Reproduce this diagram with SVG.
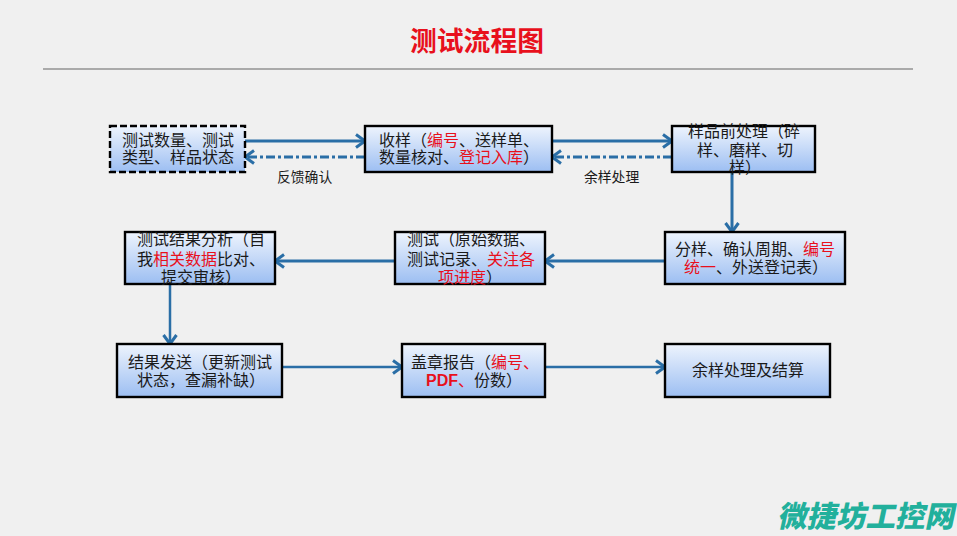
<svg xmlns="http://www.w3.org/2000/svg" width="957" height="536" viewBox="0 0 957 536">
<style>
text{font-family:"Noto Sans CJK SC","Noto Sans",sans-serif;font-size:16px;fill:#1a1a1a}
.r{fill:#e8101c}
.b{fill:url(#g);stroke:#000;stroke-width:2.4}
.c{fill:none;stroke:#2a6ea6;stroke-width:3}
.d{fill:none;stroke:#2a6ea6;stroke-width:3;stroke-dasharray:9 3 3 3}
.n{font-size:13.8px}
</style>
<defs>
<linearGradient id="g" x1="0" y1="0" x2="0" y2="1"><stop offset="0" stop-color="#eef4fd"/><stop offset="1" stop-color="#9cbef2"/></linearGradient>
<marker id="a" markerUnits="userSpaceOnUse" markerWidth="14" markerHeight="16" refX="11" refY="8" orient="auto"><path d="M2 1.5L11 8L2 14.5" fill="none" stroke="#2a6ea6" stroke-width="3"/></marker>
</defs>
<rect width="957" height="536" fill="#f0f0f0"/>
<text x="477" y="51" text-anchor="middle" style="font-size:26.8px;font-weight:700;fill:#e8101c">测试流程图</text>
<rect x="43" y="68" width="870" height="2" fill="#aaaaaa"/>
<g id="connectors">
<path class="c" marker-end="url(#a)" d="M245 141H365"/>
<path class="d" marker-end="url(#a)" d="M365 157H245"/>
<path class="c" marker-end="url(#a)" d="M552 141H672"/>
<path class="d" marker-end="url(#a)" d="M672 157H552"/>
<path class="c" marker-end="url(#a)" d="M732 172V232"/>
<path class="c" marker-end="url(#a)" d="M665 261H545"/>
<path class="c" marker-end="url(#a)" d="M395 261H275"/>
<path class="c" style="stroke-width:2.5" marker-end="url(#a)" d="M170 284V344"/>
<path class="c" style="stroke-width:2.5" marker-end="url(#a)" d="M282 367H402"/>
<path class="c" style="stroke-width:2.5" marker-end="url(#a)" d="M545 367H665"/>
</g>
<g id="n1"><rect class="b" style="stroke-dasharray:7 3" x="110" y="126" width="135" height="46"/><text x="122" y="146">测试数量、测试</text><text x="122" y="163">类型、样品状态</text></g>
<g id="n2"><rect class="b" x="365" y="126" width="187" height="46"/><text x="379" y="146">收样（<tspan class="r">编号</tspan>、送样单、</text><text x="379" y="163">数量核对、<tspan class="r">登记入库</tspan>）</text></g>
<g id="n3"><rect class="b" x="672" y="126" width="143" height="46"/><text x="688" y="137">样品前处理（碎</text><text x="697" y="156">样、磨样、切</text><text x="729" y="173">样）</text></g>
<g id="n4"><rect class="b" x="665" y="232" width="180" height="52"/><text x="675" y="255">分样、确认周期、<tspan class="r">编号</tspan></text><text x="684" y="273"><tspan class="r">统一</tspan>、外送登记表）</text></g>
<g id="n5"><rect class="b" x="395" y="232" width="150" height="52"/><text x="407" y="245">测试（原始数据、</text><text x="407" y="265">测试记录、<tspan class="r">关注各</tspan></text><text x="438" y="283"><tspan class="r">项进度</tspan>）</text></g>
<g id="n6"><rect class="b" x="125" y="232" width="150" height="52"/><text x="137" y="245">测试结果分析（自</text><text x="137" y="265">我<tspan class="r">相关数据</tspan>比对、</text><text x="161" y="283">提交审核）</text></g>
<g id="n7"><rect class="b" x="117" y="344" width="165" height="53"/><text x="128" y="368">结果发送（更新测试</text><text x="137" y="386">状态，查漏补缺）</text></g>
<g id="n8"><rect class="b" x="402" y="344" width="143" height="53"/><text x="411" y="368">盖章报告（<tspan class="r">编号、</tspan></text><text x="426" y="386"><tspan class="r" style="font-family:'Liberation Sans',sans-serif;font-weight:700">PDF</tspan><tspan class="r">、</tspan>份数）</text></g>
<g id="n9"><rect class="b" x="665" y="344" width="165" height="53"/><text x="692" y="376">余样处理及结算</text></g>
<text class="n" x="277" y="182">反馈确认</text>
<text class="n" x="584" y="182">余样处理</text>
<text x="0" y="0" transform="translate(777 527) skewX(-12)" style="font-size:29.5px;font-weight:900;fill:#22b09c">微捷坊工控网</text>
</svg>
